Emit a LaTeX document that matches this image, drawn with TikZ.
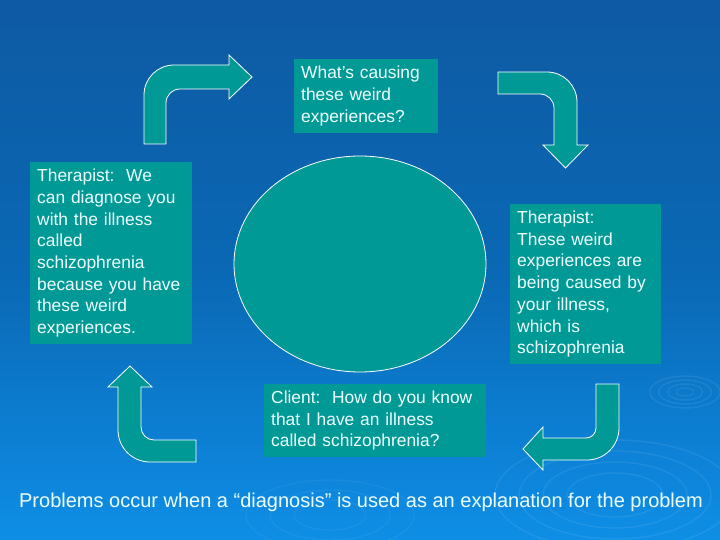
\documentclass[tikz,border=0pt]{standalone}
\usepackage{fontspec}
\setmainfont{Liberation Sans}
\usetikzlibrary{shapes.geometric}
\definecolor{tealbox}{RGB}{0,153,150}
\definecolor{txtcol}{RGB}{238,255,255}
\definecolor{bgtop}{RGB}{14,90,163}
\definecolor{bgmid}{RGB}{10,104,180}
\definecolor{bgbot}{RGB}{14,142,230}
\begin{document}
\begin{tikzpicture}[x=1pt,y=-1pt,
  txtbox/.style={fill=tealbox, draw=none, text=txtcol, align=left,
    font=\fontsize{17.4}{21.7}\selectfont, inner xsep=7pt, inner ysep=0pt, anchor=north west},
  blockarrow/.style={fill=tealbox, draw=white, line width=0.8pt, line join=miter},
  ripple/.style={draw=white, draw opacity=0.08, line width=1.4pt}]
\shade[top color=bgtop, bottom color=bgbot, middle color=bgmid] (0,0) rectangle (720,540);
\useasboundingbox (0,0) rectangle (720,540);
% ripples
\foreach \r in {8,16,24,32} \draw[ripple] (685,392) ellipse ({\r*1.1} and {\r*0.5});
\foreach \r in {40,60,80,100} \draw[ripple] (615,495) ellipse ({\r*1.2} and {\r*0.55});
\foreach \r in {30,50,70} \draw[ripple,draw opacity=0.05] (330,515) ellipse ({\r*1.2} and {\r*0.5});
% central ellipse
\node[ellipse, draw=white, fill=tealbox, line width=0.8pt, minimum width=252, minimum height=216, inner sep=0pt] (centre) at (360,264) {};
% text boxes
\node[txtbox, minimum width=144, minimum height=74, text width=130] (top) at (294,59)
  {What’s causing\\these weird\\experiences?};
\node[txtbox, minimum width=162, minimum height=182, text width=148] (left) at (30,162)
  {Therapist:\ \ We\\can diagnose you\\with the illness\\called\\schizophrenia\\because you have\\these weird\\experiences.};
\node[txtbox, minimum width=151, minimum height=160, text width=137] (right) at (510,204)
  {Therapist:\\These weird\\experiences are\\being caused by\\your illness,\\which is\\schizophrenia};
\node[txtbox, minimum width=222, minimum height=73, text width=208] (bottom) at (264,384)
  {Client:\ \ How do you know\\that I have an illness\\called schizophrenia?};
% block arrows
\draw[blockarrow] (144,144) -- (144,95) .. controls (144,78.4) and (157.4,65) .. (174,65)
  -- (229,65) -- (229,55) -- (252,77) -- (229,99) -- (229,89) -- (180,89)
  .. controls (172.3,89) and (166,95.3) .. (166,103) -- (166,144) -- cycle;
\draw[blockarrow] (498,72) -- (547,72) .. controls (563.6,72) and (577,85.4) .. (577,102)
  -- (577,145) -- (588,145) -- (565.5,168) -- (543,145) -- (554,145) -- (554,108)
  .. controls (554,100.3) and (547.7,94) .. (540,94) -- (498,94) -- cycle;
\draw[blockarrow] (196,462) -- (150,462) .. controls (132.3,462) and (118,447.7) .. (118,430)
  -- (118,387) -- (108,387) -- (130,366) -- (152,387) -- (141,387) -- (141,427)
  .. controls (141,434.2) and (146.8,440) .. (154,440) -- (196,440) -- cycle;
\draw[blockarrow] (619,384) -- (619,428) .. controls (619,445.7) and (604.7,460) .. (587,460)
  -- (543,460) -- (543,470) -- (523,449) -- (543,427) -- (543,438) -- (586,438)
  .. controls (591.5,438) and (596,433.5) .. (596,428) -- (596,384) -- cycle;
% caption
\node[text=txtcol, font=\fontsize{20}{24}\selectfont, inner sep=0pt] (caption) at (361,502)
  {Problems occur when a “diagnosis” is used as an explanation for the problem};
\end{tikzpicture}
\end{document}
